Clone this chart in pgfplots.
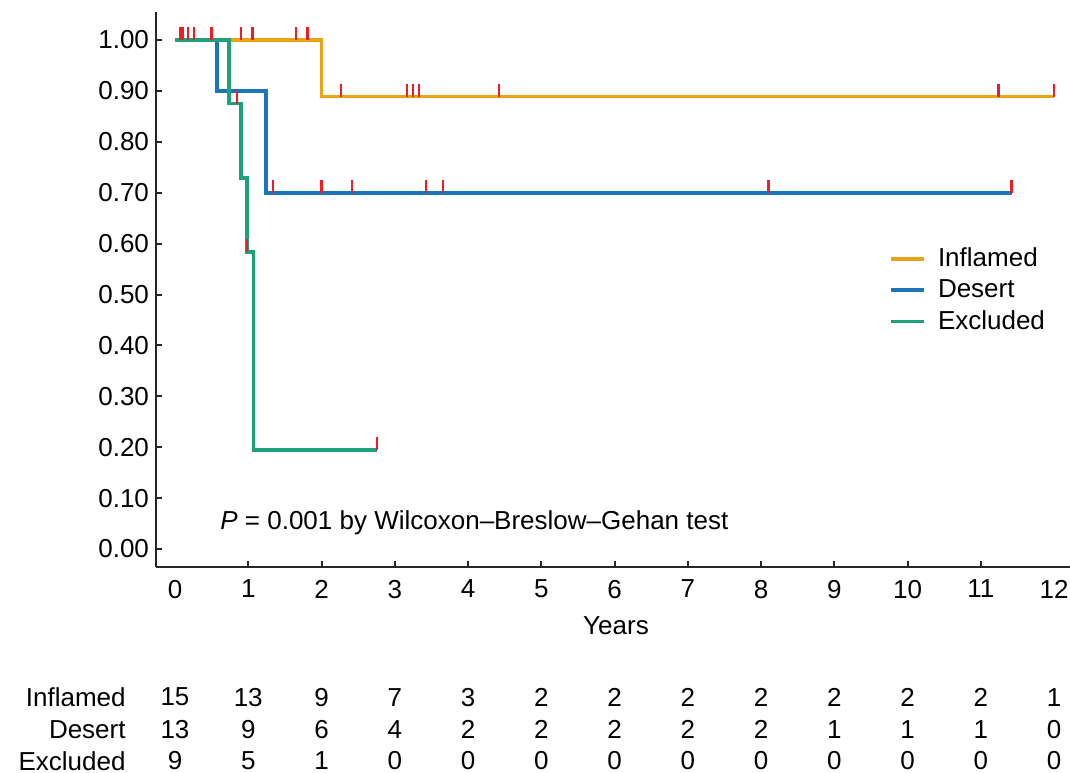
\documentclass[border=0pt]{standalone}
\usepackage{pgfplots}
\pgfplotsset{compat=1.18}
\usepackage{fontspec}
\setmainfont{Liberation Sans}
\definecolor{cInf}{RGB}{232,163,23}
\definecolor{cDes}{RGB}{27,117,187}
\definecolor{cExc}{RGB}{30,160,122}
\definecolor{cCen}{RGB}{235,30,35}
\pgfdeclareplotmark{cens}{\pgfpathmoveto{\pgfpoint{0pt}{0pt}}\pgfpathlineto{\pgfpoint{0pt}{6.5pt}}\pgfusepathqstroke}
\newcommand{\fs}{\fontsize{13}{15}\selectfont}
\begin{document}
\begin{tikzpicture}
\begin{axis}[
  x=36.625pt, y=254.5pt,
  xmin=-0.259, xmax=12.22, ymin=-0.035, ymax=1.055,
  axis x line=bottom, axis y line=left,
  axis line style={-, line width=1pt, black!85},
  clip=false,
  xtick={1,...,11},
  extra x ticks={0,12},
  extra x tick style={major tick length=0pt},
  ytick={0,0.1,0.2,0.3,0.4,0.5,0.6,0.7,0.8,0.9,1},
  yticklabel style={/pgf/number format/.cd, fixed, fixed zerofill, precision=2},
  tick align=inside,
  major tick length=3pt,
  tick style={line width=1pt, black!85},
  ticklabel style={font=\fs},
  xticklabel style={yshift=-3pt},
  /pgf/number format/assume math mode=true,
  legend style={at={(axis cs:9.747,0.60)}, anchor=north west, draw=none, fill=none,
    inner sep=0pt, font=\fs, row sep=1pt},
  legend cell align=left,
  legend image code/.code={\draw[#1, line width=1.8pt] (0pt,0pt) -- (16.5pt,0pt); \path (20.5pt,0pt);},
]
% survival curves
\addplot[const plot, cInf, line width=1.8pt] coordinates {(0,1) (2.0,0.889) (12.0,0.889)};
\addlegendentry{Inflamed}
\addplot[const plot, cDes, line width=1.8pt] coordinates {(0,1) (0.57,0.9) (1.24,0.7) (11.42,0.7)};
\addlegendentry{Desert}
\addplot[const plot, cExc, line width=1.8pt] coordinates {(0,1) (0.74,0.875) (0.90,0.729) (0.98,0.583) (1.07,0.194) (2.76,0.194)};
\addlegendentry{Excluded}
% censor marks
\addplot[forget plot, only marks, mark=cens, cCen, line width=1.2pt] coordinates {
  (0.07,1) (0.10,1) (0.18,1) (0.26,1) (0.50,1) (0.90,1) (1.06,1) (1.65,1) (1.81,1)
  (2.27,0.889) (3.17,0.889) (3.25,0.889) (3.33,0.889) (4.42,0.889) (11.24,0.889) (12.0,0.889)};
\addplot[forget plot, only marks, mark=cens, cCen, line width=1.2pt] coordinates {
  (1.34,0.7) (2.0,0.7) (2.42,0.7) (3.43,0.7) (3.66,0.7) (8.10,0.7) (11.42,0.7)};
\addplot[forget plot, only marks, mark=cens, cCen, line width=1.2pt] coordinates {
  (0.85,0.875) (0.98,0.583) (2.76,0.194)};
% number at risk
\addplot[forget plot, only marks, mark=none, nodes near coords, point meta=explicit symbolic,
  nodes near coords style={anchor=center, font=\fs, black}] coordinates {
  (0,-0.291)[15] (1,-0.291)[13] (2,-0.291)[9] (3,-0.291)[7] (4,-0.291)[3] (5,-0.291)[2] (6,-0.291)[2]
  (7,-0.291)[2] (8,-0.291)[2] (9,-0.291)[2] (10,-0.291)[2] (11,-0.291)[2] (12,-0.291)[1]
  (0,-0.354)[13] (1,-0.354)[9] (2,-0.354)[6] (3,-0.354)[4] (4,-0.354)[2] (5,-0.354)[2] (6,-0.354)[2]
  (7,-0.354)[2] (8,-0.354)[2] (9,-0.354)[1] (10,-0.354)[1] (11,-0.354)[1] (12,-0.354)[0]
  (0,-0.4165)[9] (1,-0.4165)[5] (2,-0.4165)[1] (3,-0.4165)[0] (4,-0.4165)[0] (5,-0.4165)[0] (6,-0.4165)[0]
  (7,-0.4165)[0] (8,-0.4165)[0] (9,-0.4165)[0] (10,-0.4165)[0] (11,-0.4165)[0] (12,-0.4165)[0]};
\node[anchor=east, inner sep=0pt, font=\fs] at (axis cs:-0.669,-0.291) {Inflamed};
\node[anchor=east, inner sep=0pt, font=\fs] at (axis cs:-0.669,-0.354) {Desert};
\node[anchor=east, inner sep=0pt, font=\fs] at (axis cs:-0.669,-0.4165) {Excluded};
\node[font=\fs] at (axis cs:6.02,-0.151) {Years};
\node[anchor=west, inner sep=0pt, font=\fs] at (axis cs:0.614,0.051) {\textit{P} = 0.001 by Wilcoxon–Breslow–Gehan test};
\coordinate (bbSW) at (axis cs:-2.389,-0.440);
\coordinate (bbNE) at (axis cs:12.218,1.0786);
\end{axis}
\pgfresetboundingbox
\path[use as bounding box] (bbSW) rectangle (bbNE);
\end{tikzpicture}
\end{document}
